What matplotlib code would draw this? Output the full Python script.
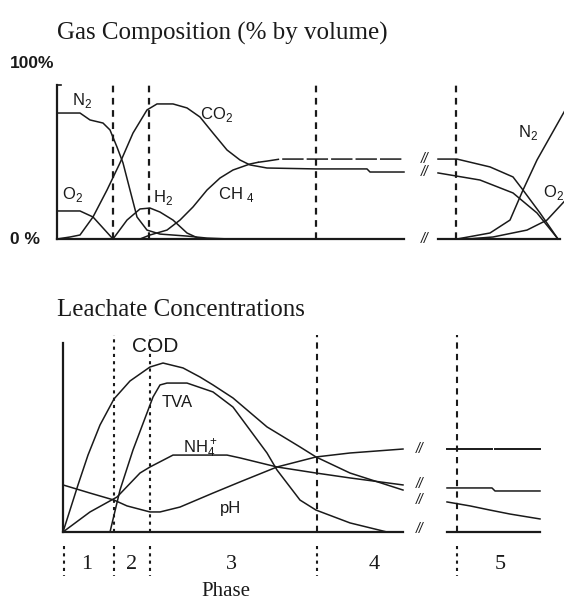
import matplotlib
matplotlib.use("Agg")
import matplotlib.pyplot as plt

# ---- gas composition (% by volume), time in arbitrary units ----
n2_t = [57, 80, 90, 103, 110, 117, 123, 130, 137, 147, 160, 187, 207, 230]
n2_v = [81.8, 81.8, 77.3, 75.3, 70.8, 59.7, 49.4, 31.8, 14.3, 5.8, 3.2, 1.9, 0.6, 0]
o2_t = [57, 80, 93, 113]
o2_v = [18.2, 18.2, 14.3, 0]
co2_t = [57, 70, 80, 93, 107, 120, 133, 147, 157, 173, 187, 200, 213, 227, 240, 250, 267, 316, 367, 370, 404]
co2_v = [0, 1.3, 2.6, 14.3, 31.8, 49.4, 68.8, 83.8, 87.7, 87.7, 85.1, 79.2, 68.8, 57.8, 51.3, 48.1, 46.1, 45.5, 45.5, 43.5, 43.5]
h2_t = [113, 127, 140, 150, 160, 173, 187, 200]
h2_v = [0, 12.3, 19.5, 20.1, 17.5, 12.3, 3.9, 0]
ch4_t = [140, 150, 167, 180, 193, 207, 220, 233, 250, 258]
ch4_v = [0, 2.6, 5.8, 12.3, 20.8, 31.8, 39.6, 44.8, 48.7, 49.8]
ch4_t4 = [258, 267, 280, 316, 404]
ch4_v4 = [49.8, 50.6, 51.9, 51.9, 51.9]
# phase 5 (after the time break)
ch4_t5 = [438, 457, 490, 513, 523, 540, 558]
ch4_v5 = [51.9, 51.9, 46.8, 40.3, 31.8, 16.9, 0]
co2_t5 = [438, 480, 513, 537, 558]
co2_v5 = [42.9, 38.3, 29.9, 16.9, 0]
n2_t5 = [457, 490, 510, 523, 537, 568]
n2_v5 = [0, 3.9, 12.3, 31.8, 51.3, 87]
o2_t5 = [467, 493, 527, 547, 568]
o2_v5 = [0, 1.3, 5.8, 12.3, 27]

# ---- leachate concentrations (relative units) ----
cod_t = [63, 70, 78, 88, 100, 114, 130, 150, 163, 183, 200, 213, 233, 267, 300, 316, 350, 403]
cod_v = [0, 11.6, 24.9, 40.7, 56.6, 70.4, 79.9, 87.3, 89.4, 86.8, 82.0, 77.8, 70.9, 55.6, 45.0, 39.7, 31.2, 22.2]
tva_t = [110, 120, 133, 147, 153, 160, 167, 187, 213, 233, 267, 277, 300, 316, 350, 387]
tva_v = [0, 22.2, 43.4, 63.0, 71.4, 77.8, 78.8, 78.8, 74.1, 66.1, 41.8, 32.8, 16.9, 11.6, 4.8, 0]
nh4_t = [63, 90, 117, 140, 150, 173, 227, 240, 277, 316, 350, 403]
nh4_v = [0, 10.6, 18.5, 31.2, 34.4, 40.7, 40.7, 39.2, 34.4, 31.2, 28.6, 24.9]
ph_t = [63, 90, 114, 127, 150, 160, 180, 213, 240, 277, 316, 350, 403]
ph_v = [24.9, 20.6, 16.9, 13.8, 10.6, 10.6, 13.2, 20.6, 26.5, 34.4, 39.7, 41.8, 43.9]
ph_t5 = [447, 492, 495, 540]
ph_v5 = [43.9, 43.9, 43.9, 43.9]
nh4_t5 = [447, 492, 495, 540]
nh4_v5 = [23.3, 23.3, 21.7, 21.7]
cod_t5 = [447, 470, 490, 510, 540]
cod_v5 = [15.9, 13.8, 11.6, 9.5, 6.9]

phase_bounds = [113, 149, 316, 456]
phase_names = ["1", "2", "3", "4", "5"]
phase_mid = [87, 132, 231, 374, 500]

INK = "#1a1a1a"
SERIF = "Liberation Serif"
SANS = "Liberation Sans"
plt.rcParams["mathtext.fontset"] = "custom"
plt.rcParams["mathtext.rm"] = SANS

fig = plt.figure(figsize=(5.64, 6.02), dpi=100)

# top panel: y in %
ax1 = fig.add_axes([0, 1 - 250 / 602, 1, 175 / 602])
ax1.set_xlim(0, 564)
ax1.set_ylim(-7.14, 106.49)
ax1.axis("off")

lw = 1.1
for t, v in [(n2_t, n2_v), (o2_t, o2_v), (co2_t, co2_v), (h2_t, h2_v), (ch4_t, ch4_v),
             (ch4_t5, ch4_v5), (co2_t5, co2_v5), (n2_t5, n2_v5), (o2_t5, o2_v5)]:
    ax1.plot(t, v, color=INK, lw=lw, clip_on=False)
ax1.plot(ch4_t4, ch4_v4, color=INK, lw=lw, ls=(0, (14, 2)))

# axes, baselines, phase separators
ax1.plot([57, 57], [0, 100], color=INK, lw=1.6)
ax1.plot([57, 61], [100, 100], color=INK, lw=1.2)
ax1.plot([57, 404], [0, 0], color=INK, lw=1.6)
ax1.plot([438, 560], [0, 0], color=INK, lw=1.6)
for b in phase_bounds:
    ax1.plot([b, b], [0, 100], color=INK, lw=1.6, ls=(0, (3, 2.5)))
for yv in [0, 43.5, 51.9]:
    ax1.text(425, yv, "//", fontsize=10, fontstyle="italic", color=INK,
             ha="center", va="center", family=SANS)

lab = dict(fontsize=12, color=INK, family=SANS)
ax1.text(72, 87, r"N$_\mathregular{2}$", **lab)
ax1.text(62, 26, r"O$_\mathregular{2}$", **lab)
ax1.text(153, 24, r"H$_\mathregular{2}$", **lab)
ax1.text(200, 78, r"CO$_\mathregular{2}$", **lab)
ax1.text(218, 26, r"CH $_\mathregular{4}$", **lab)
ax1.text(518, 66, r"N$_\mathregular{2}$", **lab)
ax1.text(543, 27, r"O$_\mathregular{2}$", **lab)

# bottom panel: relative concentration
ax2 = fig.add_axes([0, 0, 1, 277 / 602])
ax2.set_xlim(0, 564)
ax2.set_ylim(-37.04, 109.52)
ax2.axis("off")

for t, v in [(cod_t, cod_v), (tva_t, tva_v), (nh4_t, nh4_v), (ph_t, ph_v),
             (nh4_t5, nh4_v5), (cod_t5, cod_v5)]:
    ax2.plot(t, v, color=INK, lw=lw)
ax2.plot(ph_t5[:2], ph_v5[:2], color=INK, lw=1.4)
ax2.plot(ph_t5[2:], ph_v5[2:], color=INK, lw=1.4)

ax2.plot([63, 63], [0, 100], color=INK, lw=1.6)
ax2.plot([63, 403], [0, 0], color=INK, lw=1.6)
ax2.plot([447, 540], [0, 0], color=INK, lw=1.6)
for b in phase_bounds:
    style = (0, (1.5, 2)) if b < 200 else (0, (3, 2.5))
    ax2.plot([b + 1, b + 1], [0, 104], color=INK, lw=1.5, ls=style)
for b in [63] + phase_bounds:
    ax2.plot([b + 1, b + 1], [-7.4, -23.3], color=INK, lw=1.5, ls=(0, (1.5, 2)))
for yv in [1.6, 16.9, 25.4, 43.9]:
    ax2.text(420, yv, "//", fontsize=10, fontstyle="italic", color=INK,
             ha="center", va="center", family=SANS)

ax2.text(132, 95, "COD", fontsize=15, color=INK, family=SANS)
ax2.text(162, 66, "TVA", **lab)
ax2.text(183, 42, r"NH$\mathregular{^+_4}$", **lab)
ax2.text(220, 10, "pH", **lab)

for name, xm in zip(phase_names, phase_mid):
    ax2.text(xm, -17, name, fontsize=16, color=INK, family=SERIF, ha="center", va="center")
ax2.text(226, -31.5, "Phase", fontsize=15, color=INK, family=SERIF, ha="center", va="center")

# titles and percent labels
fig.text(57 / 564, 1 - 33 / 602, "Gas Composition (% by volume)", fontsize=18,
         color=INK, family=SERIF, va="center")
fig.text(57 / 564, 1 - 310 / 602, "Leachate Concentrations", fontsize=18,
         color=INK, family=SERIF, va="center")
fig.text(10 / 564, 1 - 64 / 602, "100%", fontsize=12.5, color=INK, family=SANS,
         weight="bold", va="center")
fig.text(10 / 564, 1 - 240 / 602, "0 %", fontsize=12.5, color=INK, family=SANS,
         weight="bold", va="center")

fig.savefig("out.png", dpi=100, facecolor="white")
